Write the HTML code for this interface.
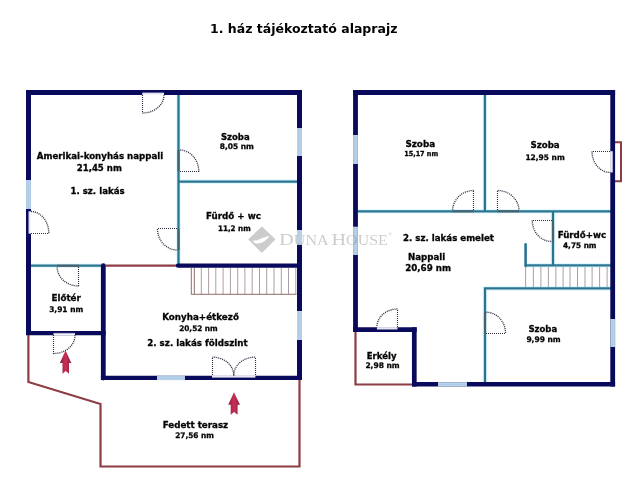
<!DOCTYPE html>
<html><head><meta charset="utf-8"><title>1. ház tájékoztató alaprajz</title>
<style>
html,body{margin:0;padding:0;background:#fff;}
body{width:640px;height:480px;overflow:hidden;}
svg{display:block}
text{font-family:"DejaVu Sans","Liberation Sans",sans-serif;font-weight:bold;fill:#000;}
.n{stroke:#0a0a5c;stroke-width:5;fill:none;stroke-linecap:butt}
.t{stroke:#2a7491;stroke-width:2.3;fill:none}
.tg{stroke:#e0f8fd;stroke-width:4.6;fill:none}
.r{stroke:#8c3e44;stroke-width:2.2;fill:none}
.d{stroke:#2c2c3c;stroke-width:1.15;fill:none;stroke-dasharray:1 1}
.a{stroke-width:1.35;stroke:#26263a}
.k{stroke:#48606a;stroke-width:2.1;fill:none}
.w{stroke:#a8cfe4;stroke-width:5;fill:none}
.s{stroke:#85757f;stroke-width:0.7;fill:none}
.sr{stroke:#7a4444;stroke-width:0.8;fill:none}
.g{stroke:#ecebf3;stroke-width:2.6;fill:none}
.wm{font-family:"Liberation Serif",serif;font-weight:normal;fill:#8c8c8c}
</style></head><body>
<svg width="640" height="480" viewBox="0 0 640 480">
<defs>
<linearGradient id="ar" x1="0" x2="1" y1="0" y2="0">
<stop offset="0" stop-color="#8a1f3c"/><stop offset="0.5" stop-color="#cc2f55"/><stop offset="1" stop-color="#8a1f3c"/>
</linearGradient>
<pattern id="hz" width="2" height="2" patternUnits="userSpaceOnUse"><rect width="2" height="2" fill="#b4cee6"/><rect width="1" height="1" fill="#abc7e2"/><rect x="1" y="1" width="1" height="1" fill="#bdd5ea"/></pattern>
<linearGradient id="gT" x1="0" y1="0" x2="0" y2="1"><stop offset="0" stop-color="#fff"/><stop offset="0.55" stop-color="#e6e6f3"/><stop offset="1" stop-color="#6f6fa8"/></linearGradient>
<linearGradient id="gB" x1="0" y1="1" x2="0" y2="0"><stop offset="0" stop-color="#fff"/><stop offset="0.55" stop-color="#e6e6f3"/><stop offset="1" stop-color="#6f6fa8"/></linearGradient>
<linearGradient id="gL" x1="0" y1="0" x2="1" y2="0"><stop offset="0" stop-color="#fff"/><stop offset="0.55" stop-color="#e6e6f3"/><stop offset="1" stop-color="#6f6fa8"/></linearGradient>
<linearGradient id="gR" x1="1" y1="0" x2="0" y2="0"><stop offset="0" stop-color="#fff"/><stop offset="0.55" stop-color="#e6e6f3"/><stop offset="1" stop-color="#6f6fa8"/></linearGradient>
</defs>
<rect width="640" height="480" fill="#fff"/>
<text x="210" y="33.3" font-size="12.5" textLength="187.5" lengthAdjust="spacingAndGlyphs" style="will-change:opacity;opacity:0.99">1. ház tájékoztató alaprajz</text>

<!-- LEFT PLAN -->
<g id="left">
<path class="tg" d="M178.5 95V266M178.5 181.6H297M31 265.7H101"/>
<path class="t" d="M178.5 95V266M178.5 181.6H297M31 265.7H101"/>
<path class="r" d="M105.5 265.6H177"/>
<path class="r" d="M28.4 335V382L100.5 404V466.5H299.5V380"/>
<path class="s" d="M201.3 268V294M208.6 268V294M215.8 268V294M223.1 268V294M230.4 268V294M237.7 268V294M244.9 268V294M252.2 268V294M259.5 268V294M266.7 268V294M274.0 268V294M281.3 268V294M288.5 268V294M295.8 268V294"/><path class="sr" d="M191.3 268V294.3H296.5M194.3 268V294"/>
<path class="n" d="M26 92.5H302"/>
<path class="n" d="M28.5 90V335.1"/>
<path class="n" d="M299.5 90V380.1"/>
<path class="n" style="stroke-width:4.4;stroke-linecap:round" d="M178 265.6H299"/>
<path class="n" style="stroke-width:4.2" d="M26 333.05H105.7"/>
<path class="n" style="stroke-width:4.8;stroke-linecap:round" d="M103.3 265.6V378"/>
<path class="n" style="stroke-width:4.4" d="M100.9 377.9H302"/>
<rect fill="url(#hz)" x="26" y="180" width="5" height="29"/>
<rect fill="url(#hz)" x="297" y="128" width="5" height="28"/>
<rect fill="url(#hz)" x="297" y="311" width="5" height="29"/>
<rect fill="#b9cfe4" x="297" y="230" width="5" height="15"/>
<rect fill="url(#hz)" x="157" y="375.7" width="28" height="4.4"/>
<!-- door notches -->
<rect fill="url(#gB)" x="142.3" y="92.3" width="21.7" height="2.8"/>
<rect fill="url(#gR)" x="28.2" y="211.3" width="2.9" height="22.4"/>
<rect fill="url(#gB)" x="53.5" y="332.8" width="21.5" height="2.4"/>
<rect fill="url(#gT)" x="212" y="375.5" width="43.4" height="2.4"/>
<!-- doors -->
<path class="k" d="M178.5 150V171.2M178.5 229V250M57 265.7H79"/>
<path class="d" d="M142.5 95V113"/><path class="d a" d="M142.5 113A21.5 18 0 0 0 164 95"/>
<path class="d" d="M180 171.5H199"/><path class="d a" d="M198.8 171.5A19.1 21.5 0 0 0 179.7 150"/>
<path class="d" d="M177 228.5H157"/><path class="d a" d="M157.5 228.9A19.8 21.1 0 0 0 177.3 250"/>
<path class="d" d="M31 233.5H49"/><path class="d a" d="M48.8 233.3A17.8 21.8 0 0 0 31 211.5"/>
<path class="d" d="M78.5 267V286"/><path class="d a" d="M78.5 286A21.4 19.3 0 0 1 57.1 266.7"/>
<path class="d" d="M53.5 335V354"/><path class="d a" d="M53.5 353.5A21.5 18.2 0 0 0 75 335.3"/>
<path class="d" d="M212.5 375V357"/><path class="d a" d="M212.4 357.1A21.3 18.3 0 0 1 233.7 375.4"/>
<path class="d" d="M255.5 375V357"/><path class="d a" d="M255.2 357.1A21.5 18.3 0 0 0 233.7 375.4"/>
<!-- arrows -->
<path fill="url(#ar)" d="M65.6 350.6L71.3 363H69V373.8L65.7 371L62.5 373.8V363H59.8Z"/>
<path fill="url(#ar)" d="M234 392.3L240 404.8H237.6V414.7L234.1 412L230.7 414.7V404.8H228.2Z"/>
</g>

<!-- RIGHT PLAN -->
<g id="right">
<path class="tg" d="M484.9 95V211.3M358 211.3H611M553 211.3V265.5M525 265.4H611M485 382V288.4H611"/>
<path class="t" d="M484.9 95V211.3M358 211.3H611M553 211.3V265.5M525 265.4H611M485 382V288.4M483.8 288.4H611"/>
<path class="t" style="stroke-width:2.6;stroke-linecap:round" d="M525.6 244.3V266"/>
<path class="s" d="M533.4 267V287M540.9 267V287M548.4 267V287M555.9 267V287M563.1 267V287M570.0 267V287M577.5 267V287M585.0 267V287M592.1 267V287M599.6 267V287M607.1 267V287"/><path class="sr" style="stroke:#b8786c" d="M525.6 267V287"/>
<path class="r" d="M355.5 332V384.5H412"/>
<path class="r" style="stroke-width:2" d="M615 142.2H621V181.3H615"/>
<path class="n" d="M353.1 92.4H615.1"/>
<path class="n" style="stroke-width:4.8" d="M355.5 90V332"/>
<path class="n" style="stroke-width:4.8" d="M612.7 90V386.6"/>
<path class="n" style="stroke-width:4.6" d="M353.1 329.6H416.7"/>
<path class="n" style="stroke-width:4.7" d="M414.3 327.3V386.6"/>
<path class="n" style="stroke-width:4.5" d="M412 384.35H615.1"/>
<rect fill="url(#hz)" x="353.1" y="135" width="4.8" height="29"/>
<rect fill="url(#hz)" x="353.1" y="226.7" width="4.8" height="28.3"/>
<rect fill="url(#hz)" x="610.3" y="319" width="4.8" height="28"/>
<rect fill="url(#hz)" x="438" y="382.1" width="29" height="4.5"/>
<rect fill="url(#gL)" x="610.2" y="151.2" width="2.9" height="21.3"/>
<rect fill="url(#gT)" x="376.9" y="327.2" width="20.6" height="2.6"/>
<path class="k" d="M452.6 211.3H473.6M497.7 211.3H519M553 220.5V241.5M485 312.2V333.1"/>
<path class="d" d="M473.5 210V190"/><path class="d a" d="M473.6 190.5A21 20.5 0 0 0 452.6 210.2"/>
<path class="d" d="M497.5 210V190"/><path class="d a" d="M497.7 190.5A21.3 20.5 0 0 1 519 210.2"/>
<path class="d" d="M610 151.5H592"/><path class="d a" d="M592 151.5A18.3 21 0 0 0 610.3 172.5"/>
<path class="d" d="M552 220.5H532"/><path class="d a" d="M532.3 220.5A19.4 21 0 0 0 551.7 241.5"/>
<path class="d" d="M397.5 327V309"/><path class="d a" d="M397.4 309A20.5 18.2 0 0 0 376.9 327.2"/>
<path class="d" d="M486 333.5H506"/><path class="d a" d="M505.5 333.1A19.5 20.9 0 0 0 486 312.2"/>
</g>

<!-- watermark -->
<g style="will-change:opacity;opacity:0.44">
<path fill="#8c8c8c" stroke="#8c8c8c" stroke-width="1.2" stroke-linejoin="round" d="M261.9 227.3L274.7 239.4L261.9 252L249 239.4Z"/>
<path fill="#fff" d="M252.5 240.3C257 241.8 261 237.5 269.6 235.9C265.5 241.5 259.5 245 254.5 243Z"/>
<text class="wm" x="279.3" y="244.6" font-size="17.2" textLength="108.5" lengthAdjust="spacingAndGlyphs">D<tspan font-size="13.6">UNA </tspan>H<tspan font-size="13.6">OUSE</tspan></text>
<text class="wm" x="388.1" y="236.3" font-size="5.5" font-weight="bold">®</text>
</g>

<!-- TEXT -->
<g font-size="9.1" style="will-change:opacity;opacity:0.99;stroke:#000;stroke-width:0.3">
<text x="36.7" y="158.7" textLength="126.5" lengthAdjust="spacingAndGlyphs">Amerikai-konyhás nappali</text>
<text x="76.7" y="171.2" textLength="45.2" lengthAdjust="spacingAndGlyphs">21,45 nm</text>
<text x="70.4" y="194" textLength="54.3" lengthAdjust="spacingAndGlyphs">1. sz. lakás</text>
<text x="220.9" y="140" textLength="28.8" lengthAdjust="spacingAndGlyphs">Szoba</text>
<text x="219.7" y="149.3" font-size="7.7" textLength="34.2" lengthAdjust="spacingAndGlyphs">8,05 nm</text>
<text x="205.9" y="218.7" textLength="55.0" lengthAdjust="spacingAndGlyphs">Fürdő + wc</text>
<text x="217.9" y="230.5" font-size="7.7" textLength="32.8" lengthAdjust="spacingAndGlyphs">11,2 nm</text>
<text x="51.4" y="301.2" textLength="29.5" lengthAdjust="spacingAndGlyphs">Előtér</text>
<text x="49.2" y="312" font-size="7.7" textLength="34.0" lengthAdjust="spacingAndGlyphs">3,91 nm</text>
<text x="162.2" y="320" textLength="76.7" lengthAdjust="spacingAndGlyphs">Konyha+étkező</text>
<text x="179.2" y="331.2" font-size="7.7" textLength="38.5" lengthAdjust="spacingAndGlyphs">20,52 nm</text>
<text x="147.2" y="345.8" textLength="100.5" lengthAdjust="spacingAndGlyphs">2. sz. lakás földszint</text>
<text x="162.7" y="427.5" textLength="65.5" lengthAdjust="spacingAndGlyphs">Fedett terasz</text>
<text x="175.2" y="438.4" font-size="7.7" textLength="38.7" lengthAdjust="spacingAndGlyphs">27,56 nm</text>

<text x="405.4" y="147" textLength="29.8" lengthAdjust="spacingAndGlyphs">Szoba</text>
<text x="404.2" y="156.2" font-size="6.9" textLength="34.0" lengthAdjust="spacingAndGlyphs">15,17 nm</text>
<text x="530.4" y="148" textLength="29.3" lengthAdjust="spacingAndGlyphs">Szoba</text>
<text x="525.4" y="159.5" font-size="7.7" textLength="39.3" lengthAdjust="spacingAndGlyphs">12,95 nm</text>
<text x="403.1" y="240.8" textLength="90.8" lengthAdjust="spacingAndGlyphs">2. sz. lakás emelet</text>
<text x="407.9" y="260" textLength="37.3" lengthAdjust="spacingAndGlyphs">Nappali</text>
<text x="405.2" y="271.2" textLength="45.8" lengthAdjust="spacingAndGlyphs">20,69 nm</text>
<text x="557.7" y="237.9" textLength="48.5" lengthAdjust="spacingAndGlyphs">Fürdő+wc</text>
<text x="563" y="248.4" font-size="7.7" textLength="33.5" lengthAdjust="spacingAndGlyphs">4,75 nm</text>
<text x="366.7" y="358.5" textLength="29.8" lengthAdjust="spacingAndGlyphs">Erkély</text>
<text x="365.4" y="368.1" font-size="7.7" textLength="34.3" lengthAdjust="spacingAndGlyphs">2,98 nm</text>
<text x="528.4" y="332" textLength="28.8" lengthAdjust="spacingAndGlyphs">Szoba</text>
<text x="526.4" y="341.5" font-size="7.7" textLength="34.3" lengthAdjust="spacingAndGlyphs">9,99 nm</text>
</g>
</svg>
</body></html>
